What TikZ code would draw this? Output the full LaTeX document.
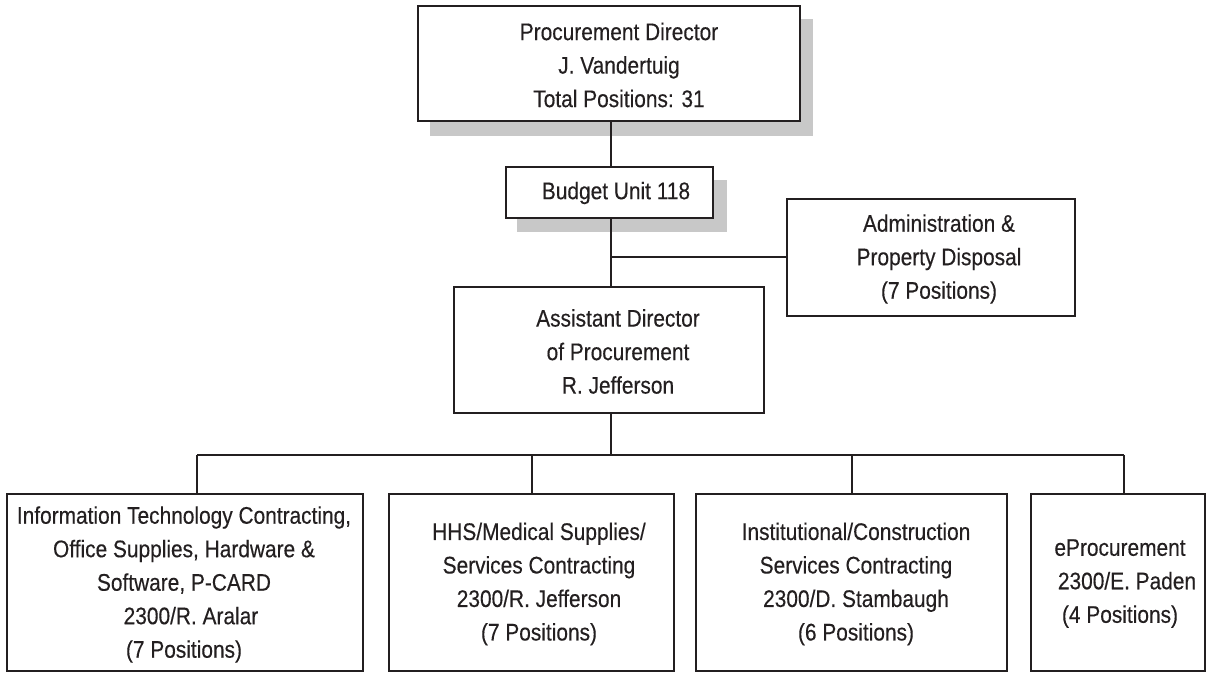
\documentclass[tikz,border=0pt]{standalone}
\usepackage{fontspec}
\setmainfont{Liberation Sans}[FakeStretch=0.87,FakeBold=0.3]
\definecolor{shadowgray}{HTML}{C8C8C8}
\definecolor{ink}{HTML}{231F20}
\begin{document}
\begin{tikzpicture}[x=1pt,y=-1pt,
  box/.style={draw=ink, line width=2.2pt, fill=white, inner sep=0pt},
  lbl/.style={align=center, text=ink, inner sep=0pt,
              font=\fontsize{24}{33.5}\selectfont},
  link/.style={draw=ink, line width=2.2pt}]
\useasboundingbox (0,0) rectangle (1206,673);

% drop shadows behind the two upper boxes
\fill[shadowgray] (430,19) rectangle (813,136);
\fill[shadowgray] (517,180) rectangle (727,232);

% boxes
\node[box, minimum width=382, minimum height=115] (top) at (609,63.5) {};
\node[box, minimum width=207, minimum height=51] (budget) at (609.5,192.5) {};
\node[box, minimum width=288, minimum height=117] (admin) at (931,257.5) {};
\node[box, minimum width=310, minimum height=126] (asst) at (609,350) {};
\node[box, minimum width=356, minimum height=177] (b1) at (185,582.5) {};
\node[box, minimum width=285, minimum height=177] (b2) at (531.5,582.5) {};
\node[box, minimum width=311, minimum height=177] (b3) at (851.5,582.5) {};
\node[box, minimum width=174, minimum height=177] (b4) at (1118,582.5) {};

% labels
\node[lbl] (top-t) at (619,65) {Procurement Director\\J. Vandertuig\\Total Positions: 31};
\node[lbl] (budget-t) at (616,193) {Budget Unit 118};
\node[lbl] (admin-t) at (939,259) {Administration \&\\Property Disposal\\(7 Positions)};
\node[lbl] (asst-t) at (618,351.5) {Assistant Director\\of Procurement\\R. Jefferson};
\node[lbl] (b1-t) at (184,584.5) {Information Technology Contracting,\\Office Supplies, Hardware \&\\Software, P-CARD\\\hspace*{14pt}2300/R. Aralar\\(7 Positions)};
\node[lbl] (b2-t) at (539,584) {HHS/Medical Supplies/\\Services Contracting\\2300/R. Jefferson\\(7 Positions)};
\node[lbl] (b3-t) at (856,584) {Institutional/Construction\\Services Contracting\\2300/D. Stambaugh\\(6 Positions)};
\node[lbl] (b4-t) at (1120,583.5) {eProcurement\\\hspace*{14pt}2300/E. Paden\\(4 Positions)};

% connectors
\coordinate (tee) at (611,257);
\coordinate (d1) at (197,455);
\coordinate (d2) at (532,455);
\coordinate (d3) at (852,455);
\coordinate (d4) at (1124,455);
\coordinate (hub) at (611,455);

\draw[link] (top.south -| tee) -- (budget.north -| tee);
\draw[link] (budget.south -| tee) -- (asst.north -| tee);
\draw[link] (tee) -- (admin.west |- tee);
\draw[link] (asst.south -| hub) -- (hub);
\draw[link] (d1) -- (d4);
\draw[link] (d1) -- (d1 |- b1.north);
\draw[link] (d2) -- (d2 |- b2.north);
\draw[link] (d3) -- (d3 |- b3.north);
\draw[link] (d4) -- (d4 |- b4.north);
\end{tikzpicture}
\end{document}
